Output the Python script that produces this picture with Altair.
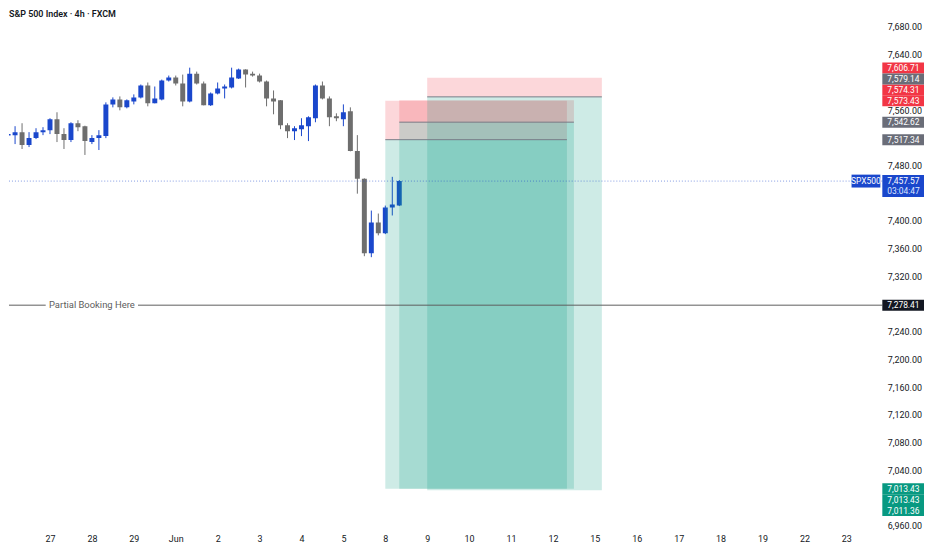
import json
import pandas as pd
import altair as alt

title_text = "S&P 500 Index · 4h · FXCM"
symbol = "SPX500"
countdown = "03:04:47"

# 4h candles, 26 May .. 8 Jun
open_ = [7523.5, 7523.9, 7528.2, 7509.6, 7519.6, 7528.2, 7531.1, 7546.8, 7525.4, 7516.8,
         7541.1, 7536.8, 7513.9, 7519.6, 7522.5, 7568.3, 7575.5, 7564.0, 7572.6, 7578.4,
         7595.6, 7569.8, 7575.5, 7602.7, 7607.0, 7598.4, 7572.6, 7612.7, 7598.4, 7566.9,
         7584.1, 7591.3, 7592.7, 7605.6, 7618.5, 7612.7, 7609.9, 7601.3, 7576.9, 7574.1,
         7538.2, 7529.6, 7532.5, 7536.8, 7548.3, 7595.6, 7576.9, 7551.1, 7546.8, 7558.3,
         7501.0, 7460.9, 7353.4, 7397.8, 7382.1, 7419.3, 7422.2]
high = [7529.6, 7536.8, 7541.1, 7528.2, 7533.9, 7535.4, 7548.3, 7556.9, 7533.9, 7542.5,
        7545.4, 7537.5, 7523.9, 7531.1, 7571.2, 7578.4, 7579.8, 7575.5, 7582.7, 7597.0,
        7599.9, 7594.1, 7604.1, 7609.9, 7609.9, 7611.3, 7621.3, 7615.6, 7601.3, 7585.5,
        7599.9, 7597.0, 7621.3, 7619.9, 7619.0, 7615.6, 7612.7, 7602.7, 7588.4, 7574.5,
        7541.1, 7536.8, 7548.3, 7551.1, 7597.0, 7601.3, 7579.8, 7555.4, 7568.3, 7564.0,
        7523.9, 7461.5, 7415.0, 7410.7, 7422.2, 7463.7, 7459.0]
low = [7518.2, 7511.0, 7503.9, 7506.7, 7518.2, 7523.9, 7525.4, 7513.9, 7503.9, 7513.9,
       7529.6, 7495.3, 7511.0, 7502.4, 7519.6, 7564.0, 7559.7, 7562.6, 7568.3, 7576.9,
       7565.5, 7569.8, 7574.1, 7601.3, 7595.6, 7565.5, 7571.2, 7597.0, 7566.9, 7566.0,
       7582.7, 7576.9, 7591.3, 7605.0, 7592.7, 7608.4, 7599.9, 7565.5, 7554.0, 7532.5,
       7519.6, 7516.8, 7522.5, 7515.3, 7542.5, 7575.5, 7536.8, 7544.0, 7536.8, 7500.5,
       7439.4, 7349.1, 7347.7, 7379.2, 7381.0, 7407.9, 7421.5]
close = [7525.4, 7528.2, 7509.6, 7519.6, 7528.2, 7531.1, 7546.8, 7525.4, 7516.8, 7541.1,
         7535.4, 7515.3, 7519.6, 7523.9, 7568.3, 7575.5, 7564.0, 7574.1, 7578.4, 7595.6,
         7569.8, 7576.9, 7602.7, 7607.0, 7598.4, 7572.6, 7612.7, 7598.4, 7566.9, 7584.1,
         7591.3, 7594.1, 7607.0, 7618.5, 7611.3, 7609.9, 7601.3, 7576.9, 7572.6, 7538.2,
         7529.6, 7533.9, 7538.2, 7549.7, 7595.6, 7576.9, 7549.7, 7548.3, 7556.9, 7501.0,
         7460.9, 7353.4, 7397.8, 7382.1, 7419.3, 7423.6, 7457.57]

day_labels = ["26", "27", "28", "29", "Jun", "2", "3", "4", "5", "8", "9", "10",
              "11", "12", "15", "16", "17", "18", "19", "22", "23"]
bars_per_day = 6

# short position tools (bar index start/end)
pos_start = [54, 56, 60]
pos_end = [80, 81, 85]
pos_entry = [7517.34, 7542.62, 7579.14]
pos_stop = [7573.43, 7574.31, 7606.71]
pos_target = [7013.43, 7013.43, 7011.36]

partial_price = 7278.41
partial_text = "Partial Booking Here"

price_ticks = [6960, 7040, 7080, 7120, 7160, 7200, 7240, 7320, 7360, 7400,
               7480, 7560, 7640, 7680]

UP = "#1a47cc"
DOWN = "#6e6e6e"
RED = "#f23645"
GREEN = "#089981"
GRAY = "#787b86"
INK = "#131722"
FONT = "Roboto"

W, H = 880, 522
x_dom = [0.84, 124.44]
y_dom = [6956.6, 7704.5]
px_per_pt = H / (y_dom[1] - y_dom[0])
last_price = close[-1]


def xq(field):
    return alt.X(field, type="quantitative",
                 scale=alt.Scale(domain=x_dom, nice=False, zero=False),
                 axis=alt.Axis(values=[bars_per_day * k for k in range(1, len(day_labels))],
                               labelExpr=f"{json.dumps(day_labels)}[round(datum.value / {bars_per_day})]",
                               orient="bottom", grid=False, domain=False, ticks=False,
                               tickSize=0, labelPadding=7, labelFontSize=9,
                               labelColor=INK, labelFont=FONT, labelFlush=False,
                               title=None))


def yq(field):
    return alt.Y(field, type="quantitative",
                 scale=alt.Scale(domain=y_dom, nice=False, zero=False),
                 axis=alt.Axis(values=price_ticks, format=",.2f", orient="right",
                               grid=False, domain=False, ticks=False, tickSize=0,
                               labelPadding=5, labelFontSize=9, labelColor=INK,
                               labelFont=FONT, labelAlign="left", title=None))


candles = pd.DataFrame({"i": range(len(close)), "o": open_, "h": high,
                        "l": low, "c": close})
candles["dir"] = ["up" if c >= o else "down" for o, c in zip(open_, close)]
dir_color = alt.Color("dir:N", scale=alt.Scale(domain=["up", "down"], range=[UP, DOWN]),
                      legend=None)

wicks = alt.Chart(candles).mark_rule(clip=True, strokeWidth=1).encode(
    x=xq("i"), y=yq("l"), y2="h", color=dir_color)
bodies = alt.Chart(candles).mark_bar(clip=True, size=5).encode(
    x=xq("i"), y=yq("o"), y2="c", color=dir_color)

pos = pd.DataFrame({"s": pos_start, "e": pos_end, "entry": pos_entry,
                    "stop": pos_stop, "target": pos_target})
risk = alt.Chart(pos).mark_rect(clip=True, color=RED, opacity=0.2).encode(
    x=xq("s"), x2="e", y=yq("entry"), y2="stop")
reward = alt.Chart(pos).mark_rect(clip=True, color=GREEN, opacity=0.2).encode(
    x=xq("s"), x2="e", y=yq("entry"), y2="target")
entry_line = alt.Chart(pos).mark_rule(clip=True, color=GRAY, strokeWidth=1).encode(
    x=xq("s"), x2="e", y=yq("entry"))

hline = pd.DataFrame({"p": [partial_price], "t": [partial_text]})
partial_l = alt.Chart(hline).mark_rule(color="#5d5d5d", strokeWidth=1).encode(
    x=alt.value(0), x2=alt.value(37), y=yq("p"))
partial_r = alt.Chart(hline).mark_rule(color="#5d5d5d", strokeWidth=1).encode(
    x=alt.value(130), x2=alt.value(W), y=yq("p"))
partial_t = alt.Chart(hline).mark_text(align="center", baseline="middle", fontSize=9.5,
                                       font=FONT, color="#5d5d5d").encode(
    x=alt.value(83.5), y=yq("p"), text="t:N")

cur = pd.DataFrame({"p": [last_price], "sym": [symbol],
                    "lbl": [f"{last_price:,.2f}"], "cd": [countdown]})
cur["top"] = cur["p"] + 6 / px_per_pt
cur["bot"] = cur["p"] - 16 / px_per_pt
cur["stop_"] = cur["p"] + 6.5 / px_per_pt
cur["sbot"] = cur["p"] - 6.5 / px_per_pt
cur_line = alt.Chart(cur).mark_rule(color=UP, opacity=0.55, strokeDash=[1, 2]).encode(
    x=alt.value(0), x2=alt.value(W), y=yq("p"))
sym_box = alt.Chart(cur).mark_rect(color=UP).encode(
    x=alt.value(849), x2=alt.value(878), y=yq("stop_"), y2="sbot")
sym_txt = alt.Chart(cur).mark_text(align="center", baseline="middle", fontSize=8.5,
                                   font=FONT, color="white").encode(
    x=alt.value(863.5), y=yq("p"), text="sym:N")
cur_box = alt.Chart(cur).mark_rect(color=UP).encode(
    x=alt.value(W), x2=alt.value(W + 42), y=yq("top"), y2="bot")
cur_txt = alt.Chart(cur).mark_text(align="left", baseline="middle", fontSize=8.5,
                                   font=FONT, color="white").encode(
    x=alt.value(W + 5), y=yq("p"), text="lbl:N")
cd_txt = alt.Chart(cur).mark_text(align="left", baseline="middle", fontSize=8.5, dy=10,
                                  font=FONT, color="#dfe6ff").encode(
    x=alt.value(W + 5), y=yq("p"), text="cd:N")

# price scale labels, stacked away from the current price so they do not overlap
rows = []
for e, s, t in zip(pos_entry, pos_stop, pos_target):
    rows += [(s, RED), (e, "#6a6d78"), (t, GREEN)]
rows.append((partial_price, INK))
gap = 11 / px_per_pt
disp = {}
prev = None
for k, (p, c) in sorted(enumerate(rows), key=lambda r: r[1][0]):
    if p <= last_price:
        continue
    d = p if prev is None else max(p, prev + gap)
    disp[k] = d
    prev = d
prev = None
for k, (p, c) in sorted(enumerate(rows), key=lambda r: -r[1][0]):
    if p > last_price:
        continue
    d = p if prev is None else min(p, prev - gap)
    disp[k] = d
    prev = d
labels = pd.DataFrame({
    "d": [disp[k] for k in range(len(rows))],
    "col": [c for p, c in rows],
    "txt": [f"{p:,.2f}" for p, c in rows],
})
labels["top"] = labels["d"] + 5.5 / px_per_pt
labels["bot"] = labels["d"] - 5.5 / px_per_pt
lab_box = alt.Chart(labels).mark_rect().encode(
    x=alt.value(W), x2=alt.value(W + 42), y=yq("top"), y2="bot",
    color=alt.Color("col:N", scale=None))
lab_txt = alt.Chart(labels).mark_text(align="left", baseline="middle", fontSize=8.5,
                                      font=FONT, color="white").encode(
    x=alt.value(W + 5), y=yq("d"), text="txt:N")

title = alt.Chart(pd.DataFrame({"t": [title_text]})).mark_text(
    align="left", baseline="top", fontSize=9, fontWeight=600, font=FONT, color=INK
).encode(x=alt.value(0), y=alt.value(0), text="t:N")

chart = alt.layer(
    wicks, bodies, risk, reward, entry_line,
    partial_l, partial_r, partial_t, cur_line,
    sym_box, sym_txt, lab_box, lab_txt, cur_box, cur_txt, cd_txt, title
).properties(
    width=W, height=H, padding=0, background="white"
).configure_view(stroke=None)

chart.save("out.html", embed_options={"renderer": "svg", "actions": False})
